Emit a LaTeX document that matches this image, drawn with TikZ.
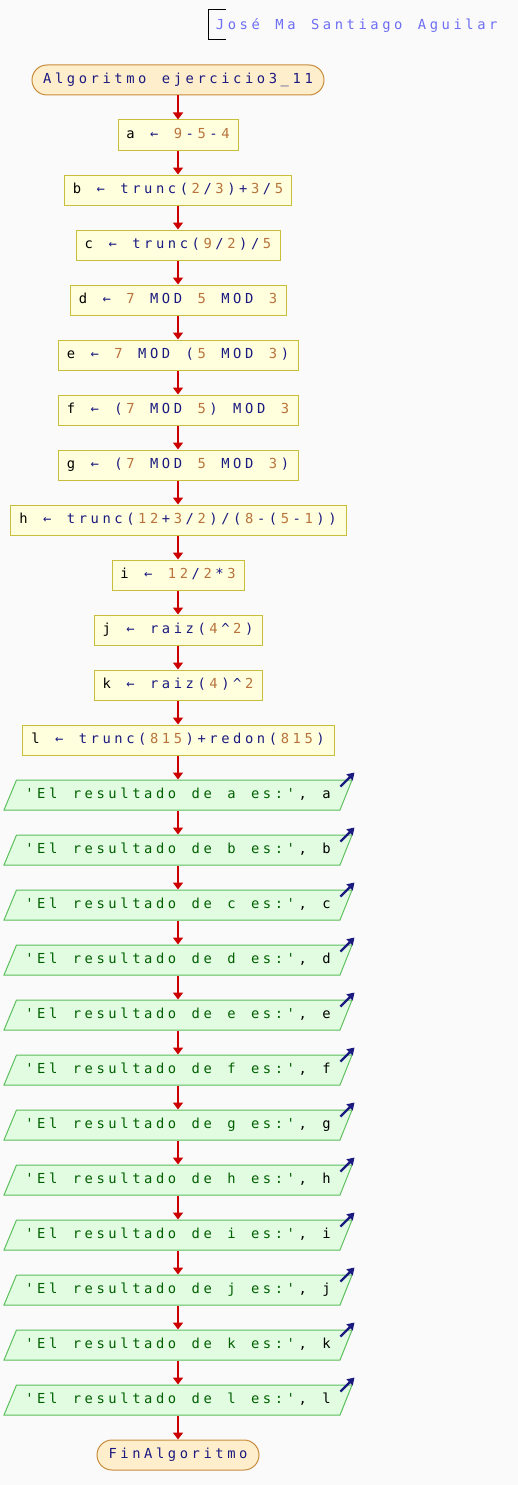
\documentclass[tikz,border=0pt]{standalone}
\usepackage{fontspec}
\usetikzlibrary{arrows.meta}
\newfontfamily\pmono{DejaVu Sans Mono}
\definecolor{bgC}{HTML}{FAFAFA}
\definecolor{asgF}{HTML}{FFFFDD}
\definecolor{asgB}{HTML}{C8BE3C}
\definecolor{trmF}{HTML}{FFEECC}
\definecolor{trmB}{HTML}{C88C3C}
\definecolor{outF}{HTML}{E2FCE2}
\definecolor{outB}{HTML}{5CBE5C}
\definecolor{arrC}{HTML}{CC0000}
\definecolor{navyC}{HTML}{1A1A80}
\definecolor{numC}{HTML}{B8733C}
\definecolor{strC}{HTML}{006000}
\definecolor{titleC}{HTML}{6E6EF5}
\def\1{\color{black}}
\def\2{\color{navyC}}
\def\3{\color{numC}}
\def\4{\color{strC}}
\def\mssp{}
\ExplSyntaxOn
\dim_new:N \l_ms_w_dim
\dim_set:Nn \l_ms_w_dim {11.88pt}
\tl_new:N \l_ms_tl
\cs_new_protected:Npn \ms_item:n #1
  {
    \tl_if_in:nnTF { \1\2\3\4 } {#1}
      {#1}
      { \hbox_to_wd:nn { \l_ms_w_dim } { \hss #1 \hss } }
  }
\cs_new_protected:Npn \ms #1
  {
    \tl_set:Nn \l_ms_tl {#1}
    \tl_replace_all:Nnn \l_ms_tl {~} {\mssp}
    \tl_map_inline:Nn \l_ms_tl { \ms_item:n {##1} }
  }
\ExplSyntaxOff
\begin{document}
\begin{tikzpicture}[x=1pt,y=-1pt,
  font=\pmono\fontsize{13.8}{15}\selectfont,
  base/.style={minimum height=30pt, inner sep=0pt, text height=10pt, text depth=2.6pt, line width=1pt},
  assign/.style={base, draw=asgB, fill=asgF},
  term/.style={base, draw=trmB, fill=trmF, rounded corners=15pt},
  outtxt/.style={base, minimum width=336pt},
  outshape/.style={draw=outB, fill=outF, line width=1pt},
  flow/.style={draw=arrC, line width=2pt, -{Triangle[length=7pt,width=10pt]}},
  outicon/.style={draw=navyC, line width=2.3pt, -{Triangle[length=7pt,width=8.5pt]}}
]
\useasboundingbox[fill=bgC] (0,0) rectangle (518,1485);
% title
\draw[line width=1pt] (226,10) -- (208,10) -- (208,40) -- (226,40);
\node[anchor=base west, inner sep=0pt] (title) at (214,30) {\color{titleC}\ms{José Ma Santiago Aguilar}};
% start
\node[term, minimum width=292pt] (start) at (178,80) {\ms{\2Algoritmo ejercicio3\_11}};
% assignments
\node[assign, minimum width=120pt] (a) at (178,135) {\ms{\1a \2← \39\2-\35\2-\34}};
\node[assign, minimum width=227pt] (b) at (178,190) {\ms{\1b \2← trunc(\32\2/\33\2)+\33\2/\35}};
\node[assign, minimum width=204pt] (c) at (178,245) {\ms{\1c \2← trunc(\39\2/\32\2)/\35}};
\node[assign, minimum width=216pt] (d) at (178,300) {\ms{\1d \2← \37 \2MOD \35 \2MOD \33}};
\node[assign, minimum width=240pt] (e) at (178,355) {\ms{\1e \2← \37 \2MOD (\35 \2MOD \33\2)}};
\node[assign, minimum width=240pt] (f) at (178,410) {\ms{\1f \2← (\37 \2MOD \35\2) MOD \33}};
\node[assign, minimum width=240pt] (g) at (178,465) {\ms{\1g \2← (\37 \2MOD \35 \2MOD \33\2)}};
\node[assign, minimum width=336pt] (h) at (178,520) {\ms{\1h \2← trunc(\312\2+\33\2/\32\2)/(\38\2-(\35\2-\31\2))}};
\node[assign, minimum width=132pt] (i) at (178,575) {\ms{\1i \2← \312\2/\32\2*\33}};
\node[assign, minimum width=168pt] (j) at (178,630) {\ms{\1j \2← raiz(\34\2\textasciicircum\32\2)}};
\node[assign, minimum width=168pt] (k) at (178,685) {\ms{\1k \2← raiz(\34\2)\textasciicircum\32}};
\node[assign, minimum width=312pt] (l) at (178,740) {\ms{\1l \2← trunc(\3815\2)+redon(\3815\2)}};
\foreach \p/\q in {start/a,a/b,b/c,c/d,d/e,e/f,f/g,g/h,h/i,i/j,j/k,k/l}
  \draw[flow] (\p) -- (\q);
% outputs
\foreach \v [count=\n from 0] in {a,b,c,d,e,f,g,h,i,j,k,l}{
  \pgfmathsetmacro\cy{795+55*\n}
  \draw[outshape] (4,\cy+15) -- (16.5,\cy-15) -- (352,\cy-15) -- (340,\cy+15) -- cycle;
  \edef\txt{\noexpand\4'El resultado de \v\space es:'\noexpand\1, \v}
  \node[outtxt] (o\v) at (178,\cy) {\expandafter\ms\expandafter{\txt}};
  \draw[outicon] (340.5,\cy-8.5) -- (354.5,\cy-22.5);
}
\node[term, minimum width=162pt] (fin) at (178,1455) {\ms{\2FinAlgoritmo}};
\draw[flow] (l) -- (oa);
\foreach \p/\q in {oa/ob,ob/oc,oc/od,od/oe,oe/of,of/og,og/oh,oh/oi,oi/oj,oj/ok,ok/ol,ol/fin}
  \draw[flow] (\p) -- (\q);
\end{tikzpicture}
\end{document}
